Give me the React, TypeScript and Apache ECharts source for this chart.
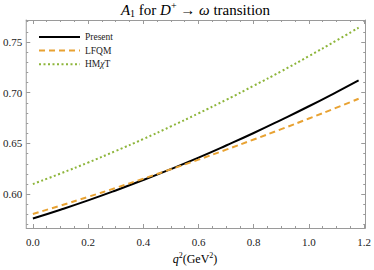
import React, { useEffect, useRef } from "react";
import * as echarts from "echarts";

const q2 = [0, 0.1, 0.2, 0.3, 0.4, 0.5, 0.6, 0.7, 0.8, 0.9, 1.0, 1.1, 1.18];
const present = [0.576, 0.5847, 0.5939, 0.6037, 0.614, 0.6248, 0.6361, 0.648, 0.6603, 0.6733, 0.6867, 0.7007, 0.7122];
const lfqm = [0.5805, 0.5888, 0.5974, 0.6062, 0.6153, 0.6246, 0.6341, 0.6439, 0.6539, 0.6641, 0.6746, 0.6853, 0.6941];
const hmxt = [0.61, 0.6204, 0.6312, 0.6426, 0.6544, 0.6668, 0.6797, 0.693, 0.7069, 0.7212, 0.7361, 0.7515, 0.7641];

const xMajor = [0, 0.2, 0.4, 0.6, 0.8, 1.0, 1.2];
const xMinor = [0.05, 0.1, 0.15, 0.25, 0.3, 0.35, 0.45, 0.5, 0.55, 0.65, 0.7, 0.75, 0.85, 0.9, 0.95, 1.05, 1.1, 1.15];
const yMajor = [0.6, 0.65, 0.7, 0.75];
const yMinor = [0.57, 0.58, 0.59, 0.61, 0.62, 0.63, 0.64, 0.66, 0.67, 0.68, 0.69, 0.71, 0.72, 0.73, 0.74, 0.76, 0.77];

const seriesNames = ["Present", "LFQM", "HMχT"];

const FONT = "'Liberation Serif', 'Times New Roman', serif";
const FRAME = "#9a9a9a";

export default function App() {
  const ref = useRef<HTMLDivElement>(null);
  useEffect(() => {
    const chart = echarts.init(ref.current!, null, { renderer: "svg" });
    const xMin = -0.024, xMax = 1.204, yMin = 0.5667, yMax = 0.7717;
    const mkX = (pos: string, ticks: number[], len: number, labels: boolean, line: boolean) => ({
      type: "value",
      position: pos,
      min: xMin,
      max: xMax,
      axisLine: { show: line, onZero: false, lineStyle: { color: FRAME, width: 1 } },
      axisTick: { show: true, inside: true, length: len, customValues: ticks, lineStyle: { color: FRAME } },
      axisLabel: labels
        ? { show: true, customValues: ticks, margin: 8, fontFamily: FONT, fontSize: 11, color: "#222", formatter: (v: number) => v.toFixed(1) }
        : { show: false },
      splitLine: { show: false },
    });
    const mkY = (pos: string, ticks: number[], len: number, labels: boolean, line: boolean) => ({
      type: "value",
      position: pos,
      min: yMin,
      max: yMax,
      axisLine: { show: line, onZero: false, lineStyle: { color: FRAME, width: 1 } },
      axisTick: { show: true, inside: true, length: len, customValues: ticks, lineStyle: { color: FRAME } },
      axisLabel: labels
        ? { show: true, customValues: ticks, margin: 4, fontFamily: FONT, fontSize: 11, color: "#222", formatter: (v: number) => v.toFixed(2) }
        : { show: false },
      splitLine: { show: false },
    });
    const data = (ys: number[]) => q2.map((x, i) => [x, ys[i]]);
    chart.setOption({
      animation: false,
      grid: { left: 25, top: 20, width: 341, height: 208 },
      xAxis: [
        mkX("bottom", xMajor, 4, true, true),
        mkX("bottom", xMinor, 2, false, false),
        mkX("top", xMajor, 4, false, true),
        mkX("top", xMinor, 2, false, false),
      ],
      yAxis: [
        mkY("left", yMajor, 4, true, true),
        mkY("left", yMinor, 2, false, false),
        mkY("right", yMajor, 4, false, true),
        mkY("right", yMinor, 2, false, false),
      ],
      legend: {
        orient: "vertical",
        left: 33,
        top: 27,
        itemWidth: 41,
        itemHeight: 10,
        itemGap: 3.6,
        data: seriesNames,
        itemStyle: { opacity: 0 },
        formatter: (n: string) => (n === "HMχT" ? "{n|HM}{i|χ}{n|T}" : "{n|" + n + "}"),
        textStyle: {
          fontFamily: FONT,
          fontSize: 9.5,
          color: "#222",
          rich: {
            n: { fontFamily: FONT, fontSize: 9.5, color: "#222" },
            i: { fontFamily: FONT, fontSize: 9.5, color: "#222", fontStyle: "italic" },
          },
        },
      },
      graphic: [
        {
          type: "text",
          x: 195.5,
          y: 9.5,
          style: {
            text: "{i|A}{sub|1}{n| for }{i|D}{sup|+}{n| → }{i|ω}{n| transition}",
            align: "center",
            verticalAlign: "middle",
            rich: {
              n: { fontFamily: FONT, fontSize: 15, color: "#111", lineHeight: 18 },
              i: { fontFamily: FONT, fontSize: 15, color: "#111", fontStyle: "italic", lineHeight: 18 },
              sub: { fontFamily: FONT, fontSize: 10, color: "#111", lineHeight: 12, verticalAlign: "bottom" },
              sup: { fontFamily: FONT, fontSize: 10, color: "#111", lineHeight: 12, verticalAlign: "top" },
            },
          },
        },
        {
          type: "text",
          x: 195,
          y: 259,
          style: {
            text: "{i|q}{sup|2}{n|(GeV}{sup|2}{n|)}",
            align: "center",
            verticalAlign: "middle",
            rich: {
              n: { fontFamily: FONT, fontSize: 12, color: "#111", lineHeight: 15 },
              i: { fontFamily: FONT, fontSize: 12, color: "#111", fontStyle: "italic", lineHeight: 15 },
              sup: { fontFamily: FONT, fontSize: 8, color: "#111", lineHeight: 9, verticalAlign: "top" },
            },
          },
        },
      ],
      series: [
        {
          name: "Present",
          type: "line",
          smooth: true,
          symbol: "none",
          data: data(present),
          lineStyle: { color: "#000", width: 2 },
          itemStyle: { color: "#000" },
          z: 3,
        },
        {
          name: "LFQM",
          type: "line",
          smooth: true,
          symbol: "none",
          data: data(lfqm),
          lineStyle: { color: "#e8a232", width: 2, type: [6, 4] },
          itemStyle: { color: "#e8a232" },
          z: 4,
        },
        {
          name: "HMχT",
          type: "line",
          smooth: true,
          symbol: "none",
          data: data(hmxt),
          lineStyle: { color: "#8db53a", width: 2, type: [2, 2.5] },
          itemStyle: { color: "#8db53a" },
          z: 2,
        },
      ],
    });
    return () => chart.dispose();
  }, []);
  return <div ref={ref} style={{ position: "absolute", left: 0, top: 0, width: 374, height: 270 }} />;
}
